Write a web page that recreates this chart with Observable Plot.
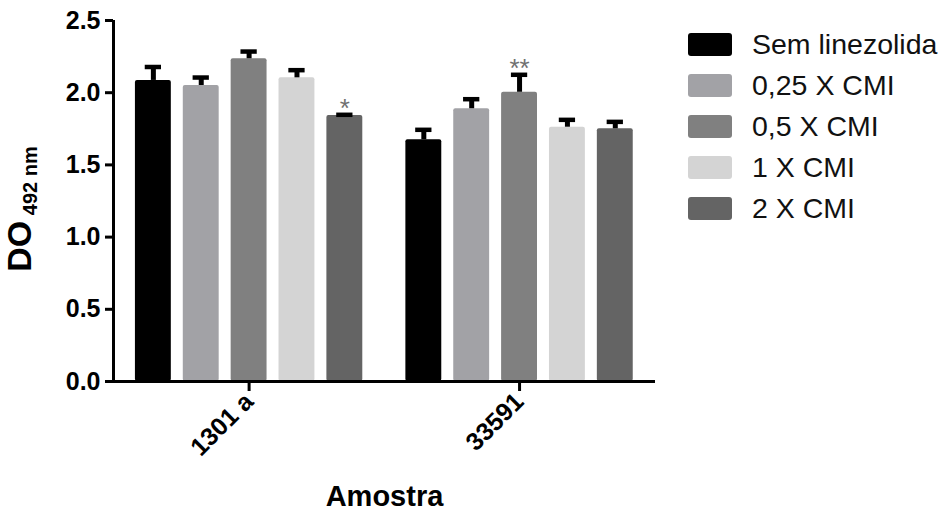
<!DOCTYPE html>
<html><head><meta charset="utf-8">
<script src="https://cdn.jsdelivr.net/npm/d3@7"></script>
<script src="https://cdn.jsdelivr.net/npm/@observablehq/plot@0.6"></script>
<style>
body{margin:0;background:#fff;}
#wrap{position:relative;width:942px;height:513px;font-family:"Liberation Sans",Arial,sans-serif;}
#legend{position:absolute;left:688px;top:24px;}
.row{display:flex;align-items:center;height:41px;}
.sw{width:44px;height:23px;border-radius:3px;margin-right:20px;}
.lab{font-size:28.5px;color:#111;white-space:nowrap;}
</style></head><body><div id="wrap"><div id="legend"></div></div>
<script>
const samples = ["1301 a", "33591"];
const series = ["Sem linezolida", "0,25 X CMI", "0,5 X CMI", "1 X CMI", "2 X CMI"];
const colors = ["#000000", "#a2a2a6", "#808080", "#d4d4d4", "#646464"];
const mean1301 = [2.085, 2.05, 2.235, 2.103, 1.842];
const top1301 = [2.178, 2.105, 2.285, 2.156, 1.847];
const mean33591 = [1.674, 1.889, 2.003, 1.761, 1.75];
const top33591 = [1.743, 1.955, 2.124, 1.812, 1.798];
const signif1301 = ["", "", "", "", "*"];
const signif33591 = ["", "", "**", "", ""];
const yTicks = [0, 0.5, 1.0, 1.5, 2.0, 2.5];
const groupGap = 5.65; // distance between groups, in bar steps

const means = [mean1301, mean33591], tops = [top1301, top33591], sigs = [signif1301, signif33591];
const data = [];
samples.forEach((s, g) => series.forEach((k, i) => data.push({
  sample: s, series: k, pos: g * groupGap + i, mean: means[g][i], top: tops[g][i], sig: sigs[g][i]
})));
const xmin = -0.833, xmax = groupGap + 4 + 0.84;

const chart = Plot.plot({
  width: 942, height: 513,
  marginLeft: 113, marginRight: 287, marginTop: 20, marginBottom: 132,
  x: {domain: [xmin, xmax]},
  y: {domain: [0, 2.5]},
  color: {domain: series, range: colors},
  style: {fontFamily: "'Liberation Sans', Arial, sans-serif", color: "#000", background: "transparent"},
  marks: [
    Plot.rectY(data, {x1: d => d.pos - 0.375, x2: d => d.pos + 0.375, y: "mean", fill: "series", rx: 2}),
    Plot.ruleX(data, {x: "pos", y1: "mean", y2: "top", strokeWidth: 5, stroke: "#000"}),
    Plot.ruleY(data, {y: "top", x1: d => d.pos - 0.17, x2: d => d.pos + 0.17, strokeWidth: 4.5, stroke: "#000"}),
    Plot.text(data.filter(d => d.sig), {x: "pos", y: "top", text: "sig", lineAnchor: "bottom", dy: 2, fontSize: 26, fill: "#707070"}),
    Plot.ruleY([0], {strokeWidth: 3}),
    Plot.ruleX([xmin], {y1: 0, y2: 2.5, strokeWidth: 3}),
    Plot.axisY({ticks: yTicks, tickFormat: d => d.toFixed(1), tickSize: 8, strokeWidth: 3, tickPadding: 5,
      fontSize: 25, fontWeight: "bold", label: "DO", labelAnchor: "center", labelOffset: 100}),
    Plot.axisX({ticks: samples.map((s, g) => g * groupGap + 2), tickFormat: v => samples[Math.round((v - 2) / groupGap)],
      tickRotate: -45, tickSize: 10, strokeWidth: 3, tickPadding: 6, fontSize: 25, fontWeight: "bold",
      label: "Amostra", labelAnchor: "center", labelOffset: 124})
  ]
});
document.getElementById("wrap").prepend(chart);

// y label with subscript
const yl = chart.querySelector('g[aria-label="y-axis label"] text');
if (yl) {
  yl.textContent = "";
  const a = document.createElementNS("http://www.w3.org/2000/svg", "tspan");
  a.setAttribute("font-size", 34); a.setAttribute("font-weight", "bold"); a.setAttribute("dx", "-8"); a.textContent = "DO";
  const b = document.createElementNS("http://www.w3.org/2000/svg", "tspan");
  b.setAttribute("font-size", 20); b.setAttribute("font-weight", "bold"); b.setAttribute("dy", "6"); b.textContent = " 492 nm";
  yl.append(a, b);
}
const xl = chart.querySelector('g[aria-label="x-axis label"] text');
if (xl) { xl.textContent = "Amostra"; xl.setAttribute("font-size", 29); xl.setAttribute("font-weight", "bold"); }

// legend
const lg = d3.select("#legend");
series.forEach((s, i) => {
  const r = lg.append("div").attr("class", "row");
  r.append("div").attr("class", "sw").style("background", colors[i]);
  r.append("div").attr("class", "lab").text(s);
});
</script></body></html>
